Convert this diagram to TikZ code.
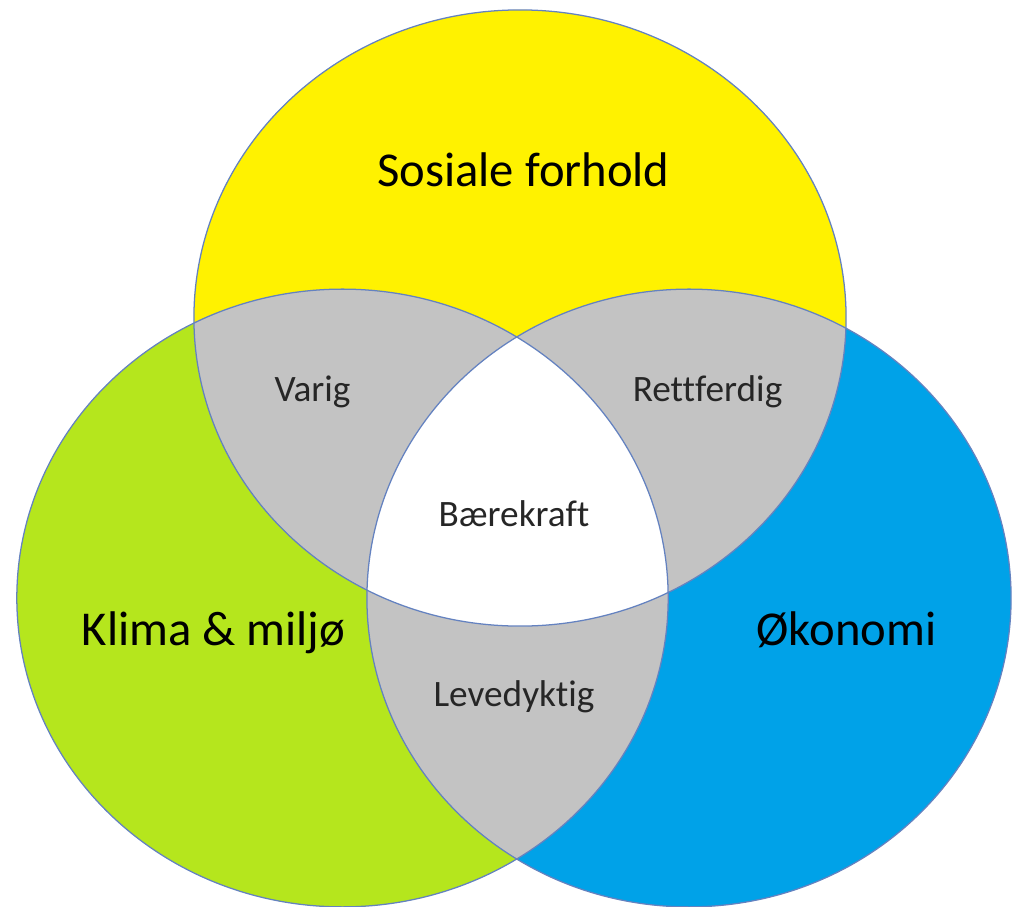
\documentclass[tikz,border=0pt]{standalone}
\usepackage{fontspec}
\setmainfont{Carlito}[Ligatures=NoCommon]
\usepackage{xcolor}
\usepackage{tikz}

\definecolor{sosialyellow}{HTML}{FFF200}
\definecolor{klimagreen}{HTML}{B5E61D}
\definecolor{okonomiblue}{HTML}{00A2E8}
\definecolor{overlapgray}{HTML}{C3C3C3}
\definecolor{ringline}{HTML}{6482C0}

\def\sosialring{(520,318) ellipse [x radius=8.15cm, y radius=7.7cm]}
\def\klimaring{(342.5,598) ellipse [x radius=8.14cm, y radius=7.72cm]}
\def\okonomiring{(689,598) ellipse [x radius=8.05cm, y radius=7.72cm]}

\begin{document}
\begin{tikzpicture}[
    x=0.025cm, y=-0.025cm,
    ring/.style={draw=ringline, line width=0.9pt},
    bigtext/.style={font=\fontsize{34.6}{40}\selectfont, text=black, inner sep=0pt},
    smalltext/.style={font=\fontsize{26.5}{31}\selectfont, text=black!85, inner sep=0pt},
]
\useasboundingbox (0,0) rectangle (1013,907);

% Three main circles
\fill[klimagreen] \klimaring;
\fill[okonomiblue] \okonomiring;
\fill[sosialyellow] \sosialring;

% Pairwise overlaps
\begin{scope}
  \clip \sosialring;
  \fill[overlapgray] \klimaring;
  \fill[overlapgray] \okonomiring;
\end{scope}
\begin{scope}
  \clip \klimaring;
  \fill[overlapgray] \okonomiring;
\end{scope}

% Centre
\begin{scope}
  \clip \sosialring;
  \clip \klimaring;
  \fill[white] \okonomiring;
\end{scope}

% Outlines
\draw[ring] \klimaring;
\draw[ring] \okonomiring;
\draw[ring] \sosialring;

% Labels
\node[bigtext, anchor=base] (sosial) at (523.5,186) {Sosiale forhold};
\node[bigtext, anchor=base] (klima) at (213.5,645.5) {Klima \& miljø};
\node[bigtext, anchor=base] (okonomi) at (846.5,645) {Økonomi};
\node[smalltext, anchor=base] (varig) at (312.5,401) {Varig};
\node[smalltext, anchor=base] (rettferdig) at (707.5,401) {Rettferdig};
\node[smalltext, anchor=base] (baerekraft) at (514,526) {Bærekraft};
\node[smalltext, anchor=base] (levedyktig) at (514,706) {Levedyktig};

\end{tikzpicture}
\end{document}
